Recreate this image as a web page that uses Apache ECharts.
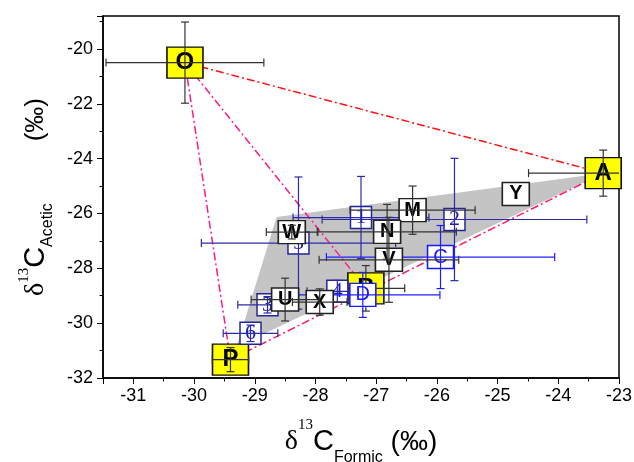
<!DOCTYPE html>
<html>
<head>
<meta charset="utf-8">
<script src="https://cdn.jsdelivr.net/npm/echarts@6/dist/echarts.min.js"></script>
<style>
  html, body { margin: 0; padding: 0; background: #fff; }
  #chart { width: 634px; height: 462px; }
</style>
</head>
<body>
<div id="chart"></div>
<script>
// end-members (yellow boxes)
const endNames = ['O', 'A', 'P', 'B']
const endX = [-30.15, -23.26, -29.40, -27.17]
const endY = [-20.50, -24.53, -31.33, -28.73]
const endXErr = [1.30, 1.23, 0.30, 0.64]
const endYErr = [1.48, 0.84, 0.44, 0.83]

// numbered samples (blue)
const numNames = ['1', '2', '3', '4', '5', '6']
const numX = [-27.25, -25.71, -28.79, -27.64, -28.28, -29.07]
const numY = [-26.15, -26.22, -29.33, -28.84, -27.08, -30.37]
const numXErr = [1.12, 2.18, 0.49, 0.50, 1.60, 0.45]
const numYErr = [1.50, 2.23, 0.30, 0.40, 2.41, 0.30]

// lettered samples (blue)
const blueNames = ['C', 'D']
const blueX = [-25.94, -27.22]
const blueY = [-27.59, -28.97]
const blueXErr = [1.88, 1.27]
const blueYErr = [1.15, 0.82]

// lettered samples (white)
const whiteNames = ['W', 'M', 'N', 'V', 'U', 'X', 'Y']
const whiteX = [-28.39, -26.40, -26.82, -26.79, -28.50, -27.93, -24.70]
const whiteY = [-26.68, -25.88, -26.67, -27.69, -29.14, -29.23, -25.29]
const whiteXErr = [0.42, 1.03, 1.14, 1.15, 0.56, 0.45, 0]
const whiteYErr = [0.25, 0.88, 1.00, 1.55, 0.78, 0.48, 0]

// grey sample field
const fieldX = [-28.64, -23.26, -29.30]
const fieldY = [-26.13, -24.53, -30.86]

// mixing lines between end-members
const mixFrom = ['O', 'O', 'O', 'P']
const mixTo = ['A', 'P', 'B', 'A']
const mixColor = ['#ff1010', '#ff1a8c', '#ff1a8c', '#ff1a6e']

const chart = echarts.init(document.getElementById('chart'), null, { renderer: 'canvas' })

function errorBars(color) {
  return function (params, api) {
    const x = api.value(0)
    const y = api.value(1)
    const xe = api.value(2)
    const ye = api.value(3)
    const cap = 4
    const kids = []
    const seg = (x1, y1, x2, y2) => kids.push({
      type: 'line',
      shape: { x1, y1, x2, y2 },
      style: { stroke: color, lineWidth: 1.2 }
    })
    if (xe > 0) {
      const l = api.coord([x - xe, y])
      const r = api.coord([x + xe, y])
      seg(l[0], l[1], r[0], r[1])
      seg(l[0], l[1] - cap, l[0], l[1] + cap)
      seg(r[0], r[1] - cap, r[0], r[1] + cap)
    }
    if (ye > 0) {
      const t = api.coord([x, y + ye])
      const b = api.coord([x, y - ye])
      seg(t[0], t[1], b[0], b[1])
      seg(t[0] - cap, t[1], t[0] + cap, t[1])
      seg(b[0] - cap, b[1], b[0] + cap, b[1])
    }
    return { type: 'group', children: kids }
  }
}

function group(names, xs, ys, xe, ye, look, z) {
  return [
    {
      type: 'scatter',
      z: z,
      symbol: 'rect',
      symbolSize: look.size,
      data: names.map((n, i) => ({ name: n, value: [xs[i], ys[i]] })),
      itemStyle: { color: look.fill, borderColor: look.border, borderWidth: 1.5, opacity: 1 },
      label: {
        show: true,
        position: 'inside',
        formatter: '{b}',
        color: look.text,
        fontSize: look.fs,
        fontWeight: look.fw,
        fontFamily: look.ff
      },
      emphasis: { disabled: true },
      silent: true
    },
    {
      type: 'custom',
      z: z + 1,
      clip: true,
      silent: true,
      renderItem: errorBars(look.bar),
      data: names.map((n, i) => [xs[i], ys[i], xe[i], ye[i]])
    }
  ]
}

function endPoint(name) {
  const i = endNames.indexOf(name)
  return [endX[i], endY[i]]
}

const mixSeries = mixFrom.map((f, i) => ({
  type: 'line',
  z: 1,
  symbol: 'none',
  silent: true,
  data: [endPoint(f), endPoint(mixTo[i])],
  lineStyle: { color: mixColor[i], width: 1.5, type: [8, 3, 2, 3] }
}))

const fieldSeries = {
  type: 'custom',
  z: 0,
  silent: true,
  data: [0],
  renderItem: function (params, api) {
    const pts = fieldX.map((x, i) => api.coord([x, fieldY[i]]))
    return { type: 'polygon', shape: { points: pts }, style: { fill: '#c4c4c4' } }
  }
}

const titleRichX = {
  d: { fontFamily: 'Liberation Serif', fontSize: 28, lineHeight: 48, verticalAlign: 'middle', color: '#000' },
  s: { fontFamily: 'Liberation Serif', fontSize: 15, lineHeight: 40, verticalAlign: 'top', color: '#000' },
  c: { fontFamily: 'Liberation Sans', fontSize: 29, lineHeight: 48, verticalAlign: 'middle', color: '#000' },
  b: { fontFamily: 'Liberation Sans', fontSize: 16, lineHeight: 18, verticalAlign: 'bottom', color: '#000' },
  p: { fontFamily: 'Liberation Sans', fontSize: 28, lineHeight: 48, verticalAlign: 'middle', color: '#000' }
}
const titleRichY = {
  d: { fontFamily: 'Liberation Serif', fontSize: 28, lineHeight: 40, verticalAlign: 'middle', color: '#000' },
  s: { fontFamily: 'Liberation Serif', fontSize: 15, lineHeight: 30, verticalAlign: 'top', color: '#000' },
  c: { fontFamily: 'Liberation Sans', fontSize: 29, lineHeight: 40, verticalAlign: 'middle', color: '#000' },
  b: { fontFamily: 'Liberation Sans', fontSize: 16, lineHeight: 27, verticalAlign: 'bottom', color: '#000' },
  g: { width: 62 },
  p: { fontFamily: 'Liberation Sans', fontSize: 26, lineHeight: 40, verticalAlign: 'middle', color: '#000' }
}

const axisCommon = {
  axisLine: { show: true, lineStyle: { color: '#000', width: 1.5 } },
  axisTick: { show: true, inside: false, length: 6, lineStyle: { color: '#000', width: 1 } },
  minorTick: { show: true, splitNumber: 2, length: 3.5, lineStyle: { color: '#000', width: 1 } },
  splitLine: { show: false },
  nameTextStyle: { color: '#000' }
}

const option = {
  animation: false,
  backgroundColor: '#fff',
  grid: {
    left: 103, right: 15, top: 16, bottom: 84,
    containLabel: false,
    outerBoundsMode: 'none',
    show: true, borderColor: '#000', borderWidth: 1.5, backgroundColor: 'transparent'
  },
  xAxis: Object.assign({}, axisCommon, {
    type: 'value',
    min: -31.5,
    max: -23,
    splitNumber: 8,
    axisLabel: {
      color: '#000', fontSize: 18, fontFamily: 'Liberation Sans', margin: 9,
      formatter: v => (Number.isInteger(v) ? String(v) : '')
    },
    name: '{d|δ}{s|13}{c|C}{b|Formic}{p| (‰)}',
    nameLocation: 'middle',
    nameGap: 40,
    nameTextStyle: { rich: titleRichX }
  }),
  yAxis: Object.assign({}, axisCommon, {
    type: 'value',
    min: -32,
    max: -18.8,
    interval: 2,
    axisLabel: {
      color: '#000', fontSize: 18, fontFamily: 'Liberation Sans', margin: 10,
      formatter: v => (v % 2 === 0 ? String(v) : '')
    },
    name: '{d|δ}{s|13}{c|C}{b|Acetic}{g| }{p|(‰)}',
    nameLocation: 'middle',
    nameRotate: 90,
    nameGap: 40,
    nameTextStyle: { rich: titleRichY }
  }),
  series: [fieldSeries].concat(
    mixSeries,
    group(endNames, endX, endY, endXErr, endYErr, {
      size: [36, 31], fill: '#ffff00', border: '#111', text: '#000',
      fs: 24, fw: 'bold', ff: 'Liberation Sans', bar: '#333'
    }, 2),
    group(numNames, numX, numY, numXErr, numYErr, {
      size: [21, 22], fill: '#fff', border: '#22229a', text: '#1e1eb0',
      fs: 22, fw: 'normal', ff: 'Liberation Serif', bar: '#2b2ba8'
    }, 4),
    group(blueNames, blueX, blueY, blueXErr, blueYErr, {
      size: [26, 23], fill: '#fff', border: '#1a1aff', text: '#1a1aff',
      fs: 20, fw: 'normal', ff: 'Liberation Sans', bar: '#1e1eff'
    }, 6),
    group(whiteNames, whiteX, whiteY, whiteXErr, whiteYErr, {
      size: [27, 23], fill: '#fff', border: '#222', text: '#000',
      fs: 20, fw: 'bold', ff: 'Liberation Sans', bar: '#333'
    }, 8)
  )
}

chart.setOption(option)
window.addEventListener('resize', () => chart && chart.resize())
</script>
</body>
</html>
